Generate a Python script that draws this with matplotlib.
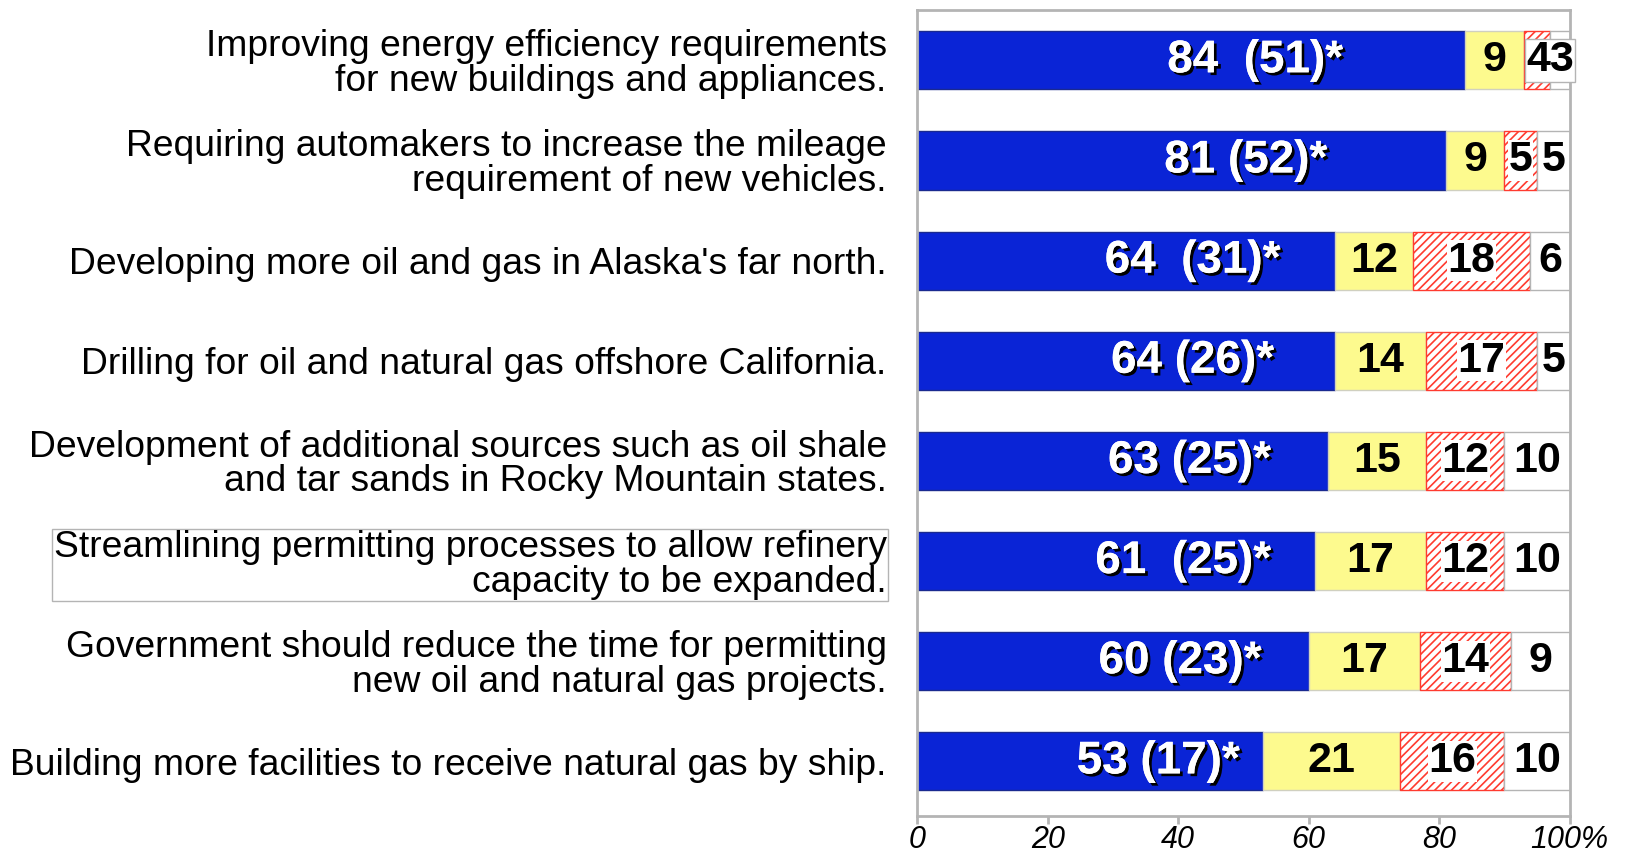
import numpy as np
import matplotlib.pyplot as plt
import matplotlib.patheffects as pe

plt.rcParams['font.family'] = ['Liberation Sans', 'DejaVu Sans']
plt.rcParams['hatch.linewidth'] = 1.2

questions = [
    "Improving energy efficiency requirements\nfor new buildings and appliances.",
    "Requiring automakers to increase the mileage\nrequirement of new vehicles.",
    "Developing more oil and gas in Alaska's far north.",
    "Drilling for oil and natural gas offshore California.",
    "Development of additional sources such as oil shale\nand tar sands in Rocky Mountain states.",
    "Streamlining permitting processes to allow refinery\ncapacity to be expanded.",
    "Government should reduce the time for permitting\nnew oil and natural gas projects.",
    "Building more facilities to receive natural gas by ship.",
]
favor = [84, 81, 64, 64, 63, 61, 60, 53]
favor_labels = ["84  (51)*", "81 (52)*", "64  (31)*", "64 (26)*",
                "63 (25)*", "61  (25)*", "60 (23)*", "53 (17)*"]
neutre = [9, 9, 12, 14, 15, 17, 17, 21]
contre = [4, 5, 18, 17, 12, 12, 14, 16]
nsp = [3, 5, 6, 5, 10, 10, 9, 10]

bleu = '#0a24d6'
jaune = '#fdfa8e'
rouge = '#ff3b2f'
gris = '#b4b4b4'

fig = plt.figure(figsize=(16.35, 8.52), dpi=100)
ax = fig.add_axes([0.561, 0.0417, 0.399, 0.9463])

n = len(questions)
y = np.arange(n)[::-1]
h = 0.58

favor = np.array(favor)
neutre = np.array(neutre)
contre = np.array(contre)
nsp = np.array(nsp)

ax.barh(y, favor, height=h, color=bleu, edgecolor='#1a2a90', linewidth=1)
ax.barh(y, neutre, left=favor, height=h, color=jaune, edgecolor='#d0d0c0', linewidth=1)
ax.barh(y, contre, left=favor + neutre, height=h, color='white', edgecolor=rouge,
        hatch='////', linewidth=1)
ax.barh(y, nsp, left=favor + neutre + contre, height=h, color='white', edgecolor=gris, linewidth=1)

ombre = [pe.withSimplePatchShadow(offset=(2, -2), shadow_rgbFace='black', alpha=1.0), pe.Normal()]

for i in range(n):
    ax.text(0.48 * favor[i] + 11.5, y[i], favor_labels[i], ha='center', va='center',
            color='white', fontsize=33, fontweight='bold', path_effects=ombre)
    ax.text(favor[i] + neutre[i] / 2, y[i], str(neutre[i]), ha='center', va='center',
            color='black', fontsize=31, fontweight='bold')
    if i == 0:
        # deux petites valeurs collees dans une boite blanche
        ax.text(97, y[i], str(contre[i]) + str(nsp[i]), ha='center', va='center',
                color='black', fontsize=31, fontweight='bold',
                bbox=dict(facecolor='white', edgecolor=gris, pad=1, linewidth=1),
                clip_on=False, zorder=5)
        continue
    ax.text(favor[i] + neutre[i] + contre[i] / 2, y[i], str(contre[i]), ha='center', va='center',
            color='black', fontsize=31, fontweight='bold',
            bbox=dict(facecolor='white', edgecolor='none', pad=0.3))
    ax.text(100 - nsp[i] / 2, y[i], str(nsp[i]), ha='center', va='center',
            color='black', fontsize=31, fontweight='bold')

ax.set_xlim(0, 100)
ax.set_ylim(-0.55, n - 0.5)
ax.set_yticks(y)
ax.set_yticklabels(questions, fontsize=26.8, linespacing=0.98)
ax.tick_params(axis='y', length=0, pad=22)
ax.set_xticks([0, 20, 40, 60, 80, 100])
ax.set_xticklabels(['0', '20', '40', '60', '80', '100%'], fontsize=22, style='italic')
ax.tick_params(axis='x', length=6, color=gris, width=2, pad=0)

for lab in ax.get_yticklabels():
    if lab.get_text().startswith('Streamlining'):
        lab.set_bbox(dict(facecolor='white', edgecolor=gris, pad=1, linewidth=1))

for s in ax.spines.values():
    s.set_color(gris)
    s.set_linewidth(2)

plt.savefig('out.png', dpi=100)
